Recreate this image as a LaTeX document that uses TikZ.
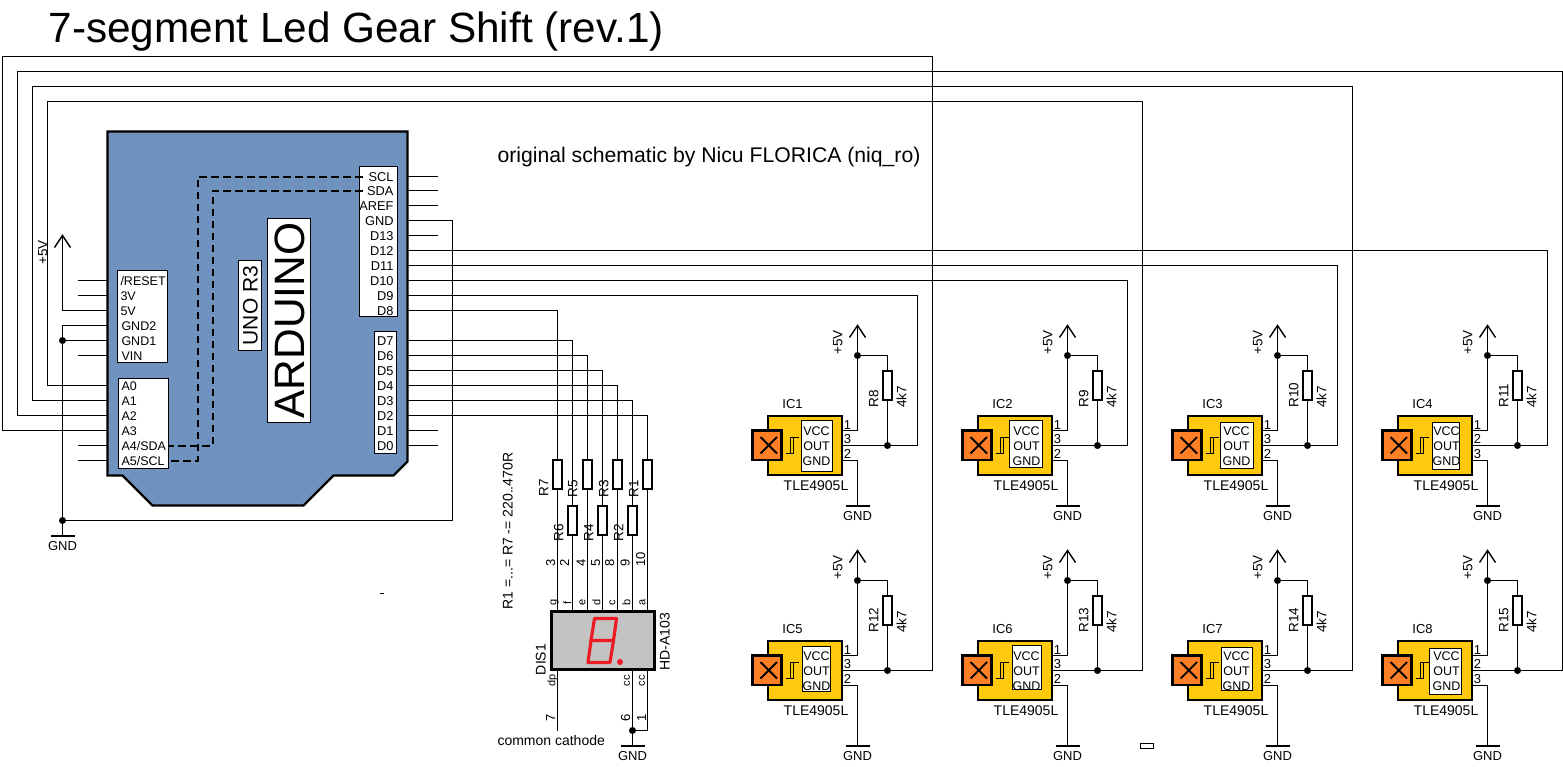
\documentclass[tikz,border=0pt]{standalone}
\usepackage{fontspec}
\setmainfont{Liberation Sans}
\definecolor{boardblue}{HTML}{7092BE}
\definecolor{bodyyellow}{HTML}{FFC90E}
\definecolor{magorange}{HTML}{FF7F27}
\definecolor{segred}{HTML}{ED1C24}
\definecolor{dispgray}{HTML}{C3C3C3}
\tikzset{
  txt/.code={\pgfmathsetmacro\txtht{0.72*#1}\tikzset{font=\fontsize{#1}{#1}\selectfont,inner sep=0pt,outer sep=0pt,text height=\txtht pt,text depth=0pt}},
  wire/.style={line width=1pt},
  chev/.style={line width=1.4pt},
  gbar/.style={line width=2pt},
  boxbase/.style={rectangle,inner sep=0pt,outer sep=0pt,anchor=north west},
  whitebox/.style={draw,fill=white,line width=1pt},
  res/.style={rectangle,draw,fill=white,line width=2pt,inner sep=0pt,outer sep=0pt,minimum width=9pt,minimum height=29pt},
  dot/.style={circle,fill=black,inner sep=0pt,outer sep=0pt,minimum size=7pt},
  i2c/.style={line width=2pt,dash pattern=on 7.5pt off 4.5pt},
  seg/.style={line width=3.2pt,color=segred,line cap=round,line join=round},
}
% #1 id, #2 x, #3 y, #4 R name, #5 middle pin, #6 lower pin, #7 #8 corners of the white box, #9 gnd bar offset
\newcommand{\sensor}[9]{
\begin{scope}[shift={(#2,#3)}]
  \coordinate (#1p1) at (74,15);
  \coordinate (#1p2) at (74,30);
  \coordinate (#1p3) at (74,45);
  \coordinate (#1tip) at (90,-90);
  \node[dot] (#1ja) at (90,-60) {};
  \node[dot] (#1jb) at (120,30) {};
  \node[res] (#1R) at (120,-30.5) {};
  \coordinate (#1bar) at (90,#9);
  \coordinate (#1barl) at (78,#9);
  \coordinate (#1barr) at (102,#9);
  \draw[wire] (#1p1) -| (#1tip);
  \draw[chev] (#1tip) ++(-8,12) -- (#1tip) -- ++(8,12);
  \draw[wire] (#1ja) -| (#1R.north);
  \draw[wire] (#1R.south) -- (#1jb);
  \draw[wire] (#1p2) -- (#1jb);
  \draw[wire] (#1p3) -| (#1bar);
  \draw[gbar] (#1barl) -- (#1barr);
  \node[txt=13] (#1gnd) at (90,#9+10) {GND};
  \node[boxbase,draw,fill=bodyyellow,line width=2pt,minimum width=74pt,minimum height=59pt] (#1body) at (0,0) {};
  \node[boxbase,draw,fill=magorange,line width=2.4pt,minimum width=29pt,minimum height=29.5pt] (#1mag) at (-15,15) {};
  \draw[line width=1.8pt] (-7,21.5) -- (9.5,38);
  \draw[line width=1.8pt] (-7,38) -- (9.5,21.5);
  \draw[line width=1pt] (18,38) -- (26,38) -- (26,22) -- (31,22);
  \draw[line width=1pt] (23,38) -- (23,22) -- (26,22);
  \draw[whitebox] #7 rectangle #8;
  \node[txt=12.5] (#1vcc) at (49,15) {VCC};
  \node[txt=12.5] (#1out) at (49,30) {OUT};
  \node[txt=12.5] (#1gn) at (49,45) {GND};
  \node[txt=13] (#1a) at (80,9) {1};
  \node[txt=13] (#1b) at (80,23.5) {#5};
  \node[txt=13] (#1c) at (80,38) {#6};
  \node[txt=13] (#1name) at (25,-12) {#1};
  \node[txt=14] (#1type) at (48.5,69.5) {TLE4905L};
  \node[txt=13.5,rotate=90] (#1pw) at (70,-73) {+5V};
  \node[txt=13.5,rotate=90,anchor=west] (#1rn) at (106,-8) {#4};
  \node[txt=13.5,rotate=90,anchor=west] (#1rv) at (134,-8) {4k7};
\end{scope}
}
\begin{document}
\begin{tikzpicture}[x=1pt,y=-1pt]
\useasboundingbox (0,0) rectangle (1563,766);
\fill[white] (0,0) rectangle (1563,766);
\begin{scope}[shift={(0.5,0.5)}]
% texts
\node[txt=42.3,anchor=west] (title) at (48,27) {7-segment Led Gear Shift (rev.1)};
\node[txt=21.2,anchor=west] (credit) at (497,154) {original schematic by Nicu FLORICA (niq\_ro)};
% arduino pins
\foreach \n/\y in {SCL/176,SDA/190,AREF/205,GNDD/220,D13/235,D12/250,D11/265,D10/280,D9/295,D8/310,D7/340,D6/355,D5/370,D4/385,D3/400,D2/415,D1/430,D0/445}
  \coordinate (p\n) at (407,\y);
\foreach \n/\y in {RST/280,TV/295,FV/310,GTW/325,GON/340,VIN/355,A0/385,A1/400,A2/415,A3/430,A4/445,A5/460}
  \coordinate (p\n) at (107,\y);
\foreach \n/\y in {SCL/176,SDA/190,AREF/205,D13/235,D1/430,D0/445}{
  \coordinate (s\n) at (437,\y);
  \draw[wire] (p\n) -- (s\n);
}
\foreach \n/\y in {RST/280,TV/295,VIN/355,A4/445,A5/460}{
  \coordinate (s\n) at (77,\y);
  \draw[wire] (p\n) -- (s\n);
}
% sensors
\sensor{IC1}{767}{415}{R8}{3}{2}{(34,5)}{(65,56)}{90}
\sensor{IC2}{977}{415}{R9}{3}{2}{(32,5)}{(65,52)}{90}
\sensor{IC3}{1187}{415}{R10}{3}{2}{(33,7)}{(66,53)}{90}
\sensor{IC4}{1397}{415}{R11}{2}{3}{(35,7)}{(62,54)}{90}
\sensor{IC5}{767}{640}{R12}{3}{2}{(35,6)}{(62.5,51)}{105}
\sensor{IC6}{977}{640}{R13}{3}{2}{(35,5)}{(64,49)}{105}
\sensor{IC7}{1187}{640}{R14}{3}{2}{(34,7)}{(65,50)}{105}
\sensor{IC8}{1397}{640}{R15}{2}{3}{(32,8)}{(64,54)}{105}
% sensor outputs
\coordinate (oIC1) at (917,445);
\coordinate (oIC2) at (1127,445);
\coordinate (oIC3) at (1337,445);
\coordinate (oIC4) at (1547,445);
\coordinate (oIC5) at (932,670);
\coordinate (oIC6) at (1142,670);
\coordinate (oIC7) at (1352,670);
\coordinate (oIC8) at (1562,670);
\foreach \k in {1,...,8} \draw[wire] (IC\k jb) -- (oIC\k);
\draw[wire] (pD9) -| (oIC1);
\draw[wire] (pD10) -| (oIC2);
\draw[wire] (pD11) -| (oIC3);
\draw[wire] (pD12) -| (oIC4);
\coordinate (tA3) at (2,56);
\coordinate (tA2) at (17,71);
\coordinate (tA1) at (32,86);
\coordinate (tA0) at (47,101);
\draw[wire] (pA3) -| (tA3) -| (oIC5);
\draw[wire] (pA2) -| (tA2) -| (oIC8);
\draw[wire] (pA1) -| (tA1) -| (oIC7);
\draw[wire] (pA0) -| (tA0) -| (oIC6);
% left power / ground
\coordinate (vtip) at (62,235);
\draw[wire] (pFV) -| (vtip);
\draw[chev] (vtip) ++(-8,12) -- (vtip) -- ++(8,12);
\node[txt=13.5,rotate=90] (vlabel) at (42,252) {+5V};
\node[dot] (jgon) at (62,340) {};
\node[dot] (jgnd) at (62,520) {};
\coordinate (gbar0) at (62,535);
\coordinate (gbar0l) at (50,535);
\coordinate (gbar0r) at (74,535);
\coordinate (gcorner) at (452,520);
\draw[wire] (pGTW) -| (gbar0);
\draw[wire] (pGON) -- (jgon);
\draw[wire] (pGNDD) -| (gcorner) -- (jgnd);
\draw[gbar] (gbar0l) -- (gbar0r);
\node[txt=13] (gndlabel) at (62,545) {GND};
% board
\draw[line width=2.4pt,fill=boardblue,line join=miter] (107,131) -- (407,131) -- (407,461) -- (393,475) -- (333,475) -- (303,505) -- (152,505) -- (122,475) -- (107,475) -- cycle;
\draw[whitebox] (359,166) rectangle (397,316);
\draw[whitebox] (374,331) rectangle (396,453);
\draw[whitebox] (117,270) rectangle (167,362);
\draw[whitebox] (118,378) rectangle (168,468);
\node[boxbase,draw,fill=white,line width=1pt,minimum width=23pt,minimum height=90pt] (unobox) at (238,260) {};
\node[txt=21,rotate=90] (uno) at (unobox.center) {UNO R3};
\node[boxbase,draw,fill=white,line width=1pt,minimum width=43pt,minimum height=204pt] (ardbox) at (267,218) {};
\node[txt=42.5,rotate=90] (ard) at (ardbox.center) {ARDUINO};
\foreach \n/\l/\y in {SCL/SCL/176,SDA/SDA/190,AREF/AREF/205,GNDD/GND/220,D13/D13/235,D12/D12/250,D11/D11/265,D10/D10/280,D9/D9/295,D8/D8/310,D7/D7/340,D6/D6/355,D5/D5/370,D4/D4/385,D3/D3/400,D2/D2/415,D1/D1/430,D0/D0/445}
  \node[txt=12.8,anchor=east] (l\n) at (393,\y) {\l};
\foreach \n/\l/\y/\x in {RST/{/RESET}/280/120,TV/3V/295/120,FV/5V/310/120,GTW/GND2/325/121,GON/GND1/340/121,VIN/VIN/355/121,A0/A0/385/121,A1/A1/400/121,A2/A2/415/121,A3/A3/430/121,A4/{A4/SDA}/445/121,A5/{A5/SCL}/460/121}
  \node[txt=12.5,anchor=west] (l\n) at (\x,\y) {\l};
% i2c
\coordinate (dSCLa) at (362,176);
\coordinate (dSDAa) at (362,190);
\coordinate (dSCLb) at (197,176);
\coordinate (dSDAb) at (212,190);
\coordinate (dSCLc) at (167,460);
\coordinate (dSDAc) at (167,445);
\draw[i2c] (dSCLa) -- (dSCLb) |- (dSCLc);
\draw[i2c] (dSDAa) -- (dSDAb) |- (dSDAc);
% display wires
\foreach \n/\x in {g/557,f/572,e/587,d/602,c/617,b/632,a/647}
  \coordinate (pin\n) at (\x,610);
\node[res] (R7) at (557,474) {};
\node[res] (R6) at (572,519.5) {};
\node[res] (R5) at (587,474) {};
\node[res] (R4) at (602,519.5) {};
\node[res] (R3) at (617,474) {};
\node[res] (R2) at (632,519.5) {};
\node[res] (R1) at (647,474) {};
\draw[wire] (pD8) -| (R7.north);
\draw[wire] (pD7) -| (R6.north);
\draw[wire] (pD6) -| (R5.north);
\draw[wire] (pD5) -| (R4.north);
\draw[wire] (pD4) -| (R3.north);
\draw[wire] (pD3) -| (R2.north);
\draw[wire] (pD2) -| (R1.north);
\draw[wire] (R7.south) -- (ping);
\draw[wire] (R6.south) -- (pinf);
\draw[wire] (R5.south) -- (pine);
\draw[wire] (R4.south) -- (pind);
\draw[wire] (R3.south) -- (pinc);
\draw[wire] (R2.south) -- (pinb);
\draw[wire] (R1.south) -- (pina);
\foreach \n/\x/\y in {R7/543/496,R5/572/497,R3/603/497,R1/633/497,R6/558/541,R4/588/541,R2/618/541}
  \node[txt=13.5,rotate=90,anchor=west] (t\n) at (\x,\y) {\n};
\foreach \l/\x in {3/550,2/564,4/580.5,5/595,8/609,9/624.5,10/640}
  \node[txt=13,rotate=90,anchor=west] (n\l) at (\x,566) {\l};
\foreach \l/\x in {g/552,f/567,e/581,d/596,c/611,b/626,a/641}
  \node[txt=11,rotate=90] (m\l) at (\x,602) {\l};
% display
\node[rectangle,draw,fill=dispgray,line width=3pt,inner sep=0pt,outer sep=0pt,minimum width=103pt,minimum height=57.5pt] (dis) at (602.5,639.8) {};
\draw[seg] (594,618) -- (616,618) -- (613,640) -- (590.5,640) -- (587.5,662) -- (609.5,662) -- (613,640);
\draw[seg] (590.5,640) -- (594,618);
\node[circle,fill=segred,inner sep=0pt,minimum size=6pt] (dp) at (619.5,661.5) {};
\node[txt=14,rotate=90] (disname) at (540,659) {DIS1};
\node[txt=14,rotate=90] (distype) at (664,641) {HD-A103};
\node[txt=14,rotate=90,anchor=west] (rnote) at (507,609) {R1 =...= R7 -= 220..470R};
\coordinate (dpa) at (557,670);
\coordinate (dpb) at (557,730);
\coordinate (cca) at (632,670);
\coordinate (ccb) at (647,670);
\node[dot] (jcc) at (632,730) {};
\coordinate (gbar9) at (632,745);
\coordinate (gbar9l) at (620,745);
\coordinate (gbar9r) at (644,745);
\draw[wire] (dpa) -- (dpb);
\draw[wire] (cca) -- (gbar9);
\draw[wire] (ccb) |- (jcc);
\draw[gbar] (gbar9l) -- (gbar9r);
\node[txt=13] (gnd9) at (632,755) {GND};
\node[txt=11,rotate=90] (mdp) at (551,680) {dp};
\node[txt=11,rotate=90] (mcc1) at (625.5,680) {cc};
\node[txt=11,rotate=90] (mcc2) at (640.5,680) {cc};
\node[txt=13,rotate=90] (n7) at (550,717) {7};
\node[txt=13,rotate=90] (n6) at (625,717) {6};
\node[txt=13,rotate=90] (n1) at (641,717) {1};
\node[txt=14,anchor=west] (cathode) at (497,740) {common cathode};
% stray marks
\coordinate (straya) at (379,593);
\coordinate (strayb) at (383,593);
\draw[wire] (straya) -- (strayb);
\node[boxbase,draw,fill=white,line width=1pt,minimum width=13pt,minimum height=5pt] (strayrect) at (1139.5,743) {};
\end{scope}
\end{tikzpicture}
\end{document}
